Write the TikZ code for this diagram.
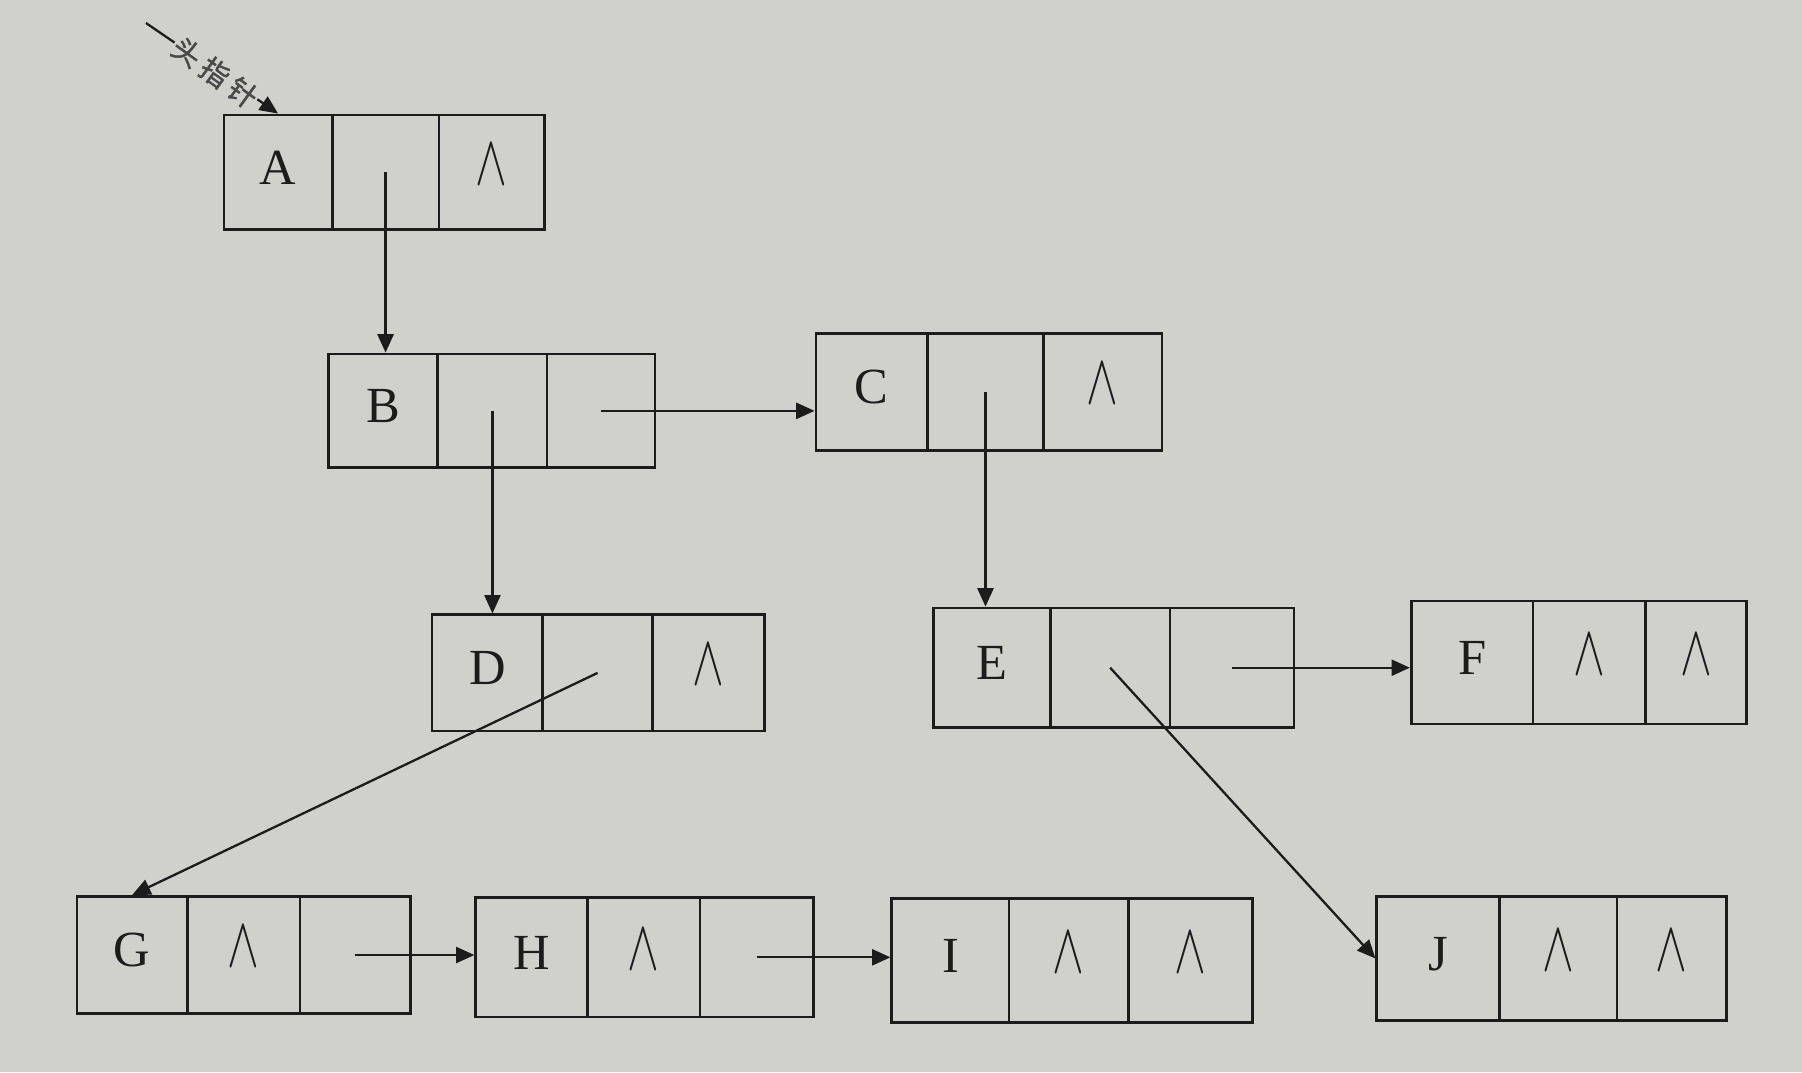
\documentclass[tikz,border=0pt]{standalone}
\usepackage{fontspec}
\setmainfont{Liberation Serif}
\newfontfamily\cjk[FakeBold=1.2]{Noto Sans CJK SC}
\usetikzlibrary{fit,arrows.meta}
\definecolor{paper}{RGB}{208,208,204}
\definecolor{ink}{RGB}{28,28,28}
\tikzset{
  cell/.style={draw=ink, line width=1.2pt, inner sep=0pt},
  celltext/.style={inner sep=0pt, text=ink, font=\fontsize{22}{26}\selectfont},
  ptr/.style={draw=ink, line width=1pt, -{Triangle[length=8pt,width=7pt]}},
  headlabel/.style={font=\cjk\fontsize{12.5}{15}\selectfont, text=ink!80, rotate=-36,
    inner sep=0.5pt, fill=paper},
}
\newcommand{\nil}{\scalebox{1.0}[1.5]{$\wedge$}}
% name, x0, x1, x2, x3, ytop, ybot, text2, text3
\newcommand{\rec}[9]{%
  \node[cell, fit={(#2,#6) (#3,#7)}] (#11) {};
  \node[cell, fit={(#3,#6) (#4,#7)}] (#12) {};
  \node[cell, fit={(#4,#6) (#5,#7)}] (#13) {};
  \node[celltext] (#1t1) at (#11.center) {\strut#1};
  \node[celltext] (#1t2) at (#12.center) {\strut#8};
  \node[celltext] (#1t3) at (#13.center) {\strut#9};
}
\begin{document}
\begin{tikzpicture}[x=0.5pt,y=-0.5pt]
  \fill[paper] (0,0) rectangle (1568,933);
  \useasboundingbox (0,0) rectangle (1568,933);

  \rec{A}{195}{289}{382}{474}{100}{200}{}{\nil}
  \rec{B}{286}{381}{476}{570}{308}{407}{}{}
  \rec{C}{710}{807}{908}{1011}{290}{392}{}{\nil}
  \rec{D}{376}{472}{568}{665}{535}{636}{}{\nil}
  \rec{E}{812}{914}{1018}{1126}{529}{633}{}{}
  \rec{F}{1228}{1334}{1432}{1520}{523}{630}{\nil}{\nil}
  \rec{G}{67}{163}{261}{357}{780}{882}{\nil}{}
  \rec{H}{414}{511}{609}{708}{781}{885}{\nil}{}
  \rec{I}{776}{878}{982}{1090}{782}{890}{\nil}{\nil}
  \rec{J}{1198}{1305}{1407}{1502}{780}{888}{\nil}{\nil}

  \coordinate (hp) at (127,20);
  \draw[ptr] (hp) -- (A1.north);
  \node[headlabel] (hl) at (187,63) {头\hspace{2.5pt}指\hspace{2.5pt}针};

  \draw[ptr] (A2.center) -- (A2.center |- B1.north);
  \draw[ptr] (B2.center) -- (B2.center |- D1.north);
  \draw[ptr] (B3.center) -- (B3.center -| C1.west);
  \draw[ptr] (C2.center) -- (C2.center |- E1.north);
  \draw[ptr] (D2.center) -- (G1.north);
  \draw[ptr] (E3.center) -- (E3.center -| F1.west);
  \draw[ptr] (E2.center) -- (J1.west);
  \draw[ptr] (G3.center) -- (G3.center -| H1.west);
  \draw[ptr] (H3.center) -- (H3.center -| I1.west);
\end{tikzpicture}
\end{document}
